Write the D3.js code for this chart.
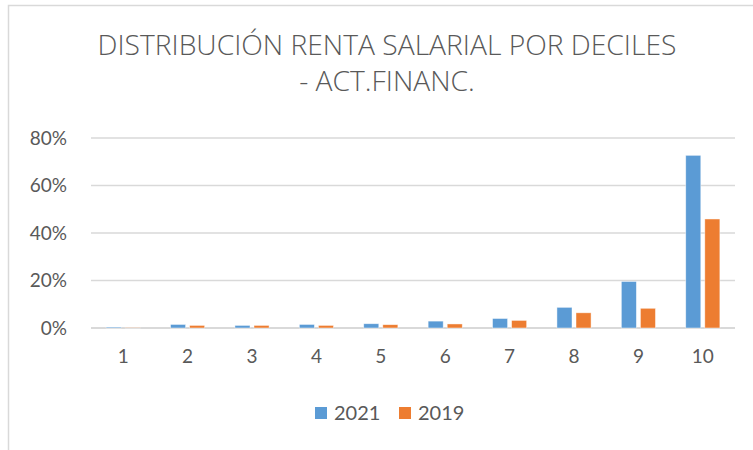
<!DOCTYPE html>
<html>
<head>
<meta charset="utf-8">
<script src="https://cdn.jsdelivr.net/npm/d3@7"></script>
<style>
  body { margin: 0; background: #fff; }
  svg { display: block; }
</style>
</head>
<body>
<script>
var width = 753, height = 450;

// data
var deciles = ["1", "2", "3", "4", "5", "6", "7", "8", "9", "10"];
var series = ["2021", "2019"];
var values2021 = [0.004, 0.015, 0.011, 0.015, 0.018, 0.029, 0.040, 0.087, 0.196, 0.727];
var values2019 = [0.001, 0.011, 0.011, 0.011, 0.014, 0.017, 0.032, 0.064, 0.083, 0.459];
var yTicks = [0, 0.2, 0.4, 0.6, 0.8];
var titleLines = ["DISTRIBUCIÓN RENTA SALARIAL POR DECILES", "- ACT.FINANC."];

var colors = {"2021": "#5b9bd5", "2019": "#ed7d31"};
var textColor = "#595959", gridColor = "#d9d9d9";
var font = "Lato, 'Open Sans', sans-serif";

var svg = d3.select("body").append("svg")
  .attr("width", width)
  .attr("height", height);

// chart frame (only top/left edges are visible)
svg.append("rect")
  .attr("x", 8.5).attr("y", 5.5)
  .attr("width", 800).attr("height", 500)
  .attr("fill", "none")
  .attr("stroke", gridColor)
  .attr("stroke-width", 1.5);

/*
* Title
*/
var title = svg.append("g");
title.selectAll("text")
  .data(titleLines)
  .enter().append("text")
  .attr("x", 387)
  .attr("y", function(d, i) { return 55 + i * 36; })
  .attr("text-anchor", "middle")
  .attr("font-family", "'Open Sans', sans-serif")
  .attr("font-weight", 300)
  .attr("font-size", 25)
  .attr("fill", textColor)
  .text(function(d) { return d; });

// scale title so the first line matches the reference width
var firstLine = title.select("text").node();
var w = firstLine.getComputedTextLength();
var fs = 25 * 579 / w;
title.selectAll("text").attr("font-size", fs);

/*
* Scales
*/
var x = d3.scaleBand()
  .domain(deciles)
  .range([91, 735])
  .paddingInner(0.47)
  .paddingOuter(0.235);

var xInner = d3.scaleBand()
  .domain(series)
  .range([0, x.bandwidth()])
  .paddingInner(0.21);

var y = d3.scaleLinear()
  .domain([0, 0.8])
  .range([328, 138]);

/*
* Grid + axes
*/
var grid = svg.append("g");
grid.selectAll("line")
  .data(yTicks)
  .enter().append("line")
  .attr("x1", 91).attr("x2", 735)
  .attr("y1", function(d) { return y(d); })
  .attr("y2", function(d) { return y(d); })
  .attr("stroke", gridColor)
  .attr("stroke-width", function(d) { return d === 0 ? 2 : 1.5; });

var yAxis = svg.append("g")
  .attr("transform", "translate(67,0)")
  .call(d3.axisLeft(y).tickValues(yTicks).tickFormat(d3.format(".0%")).tickSize(0).tickPadding(0));
yAxis.select(".domain").remove();
yAxis.selectAll("text")
  .attr("font-family", font)
  .attr("font-size", 19)
  .attr("fill", textColor);

var xAxis = svg.append("g")
  .attr("transform", "translate(0,328)")
  .call(d3.axisBottom(x).tickSize(0).tickPadding(22));
xAxis.select(".domain").remove();
xAxis.selectAll("text")
  .attr("font-family", font)
  .attr("font-size", 19)
  .attr("fill", textColor);

/*
* Bars
*/
var rows = deciles.map(function(d, i) {
  return {decile: d, "2021": values2021[i], "2019": values2019[i]};
});

var groups = svg.append("g").selectAll("g")
  .data(rows)
  .enter().append("g")
  .attr("transform", function(d) { return "translate(" + x(d.decile) + ",0)"; });

groups.selectAll("rect")
  .data(function(d) { return series.map(function(s) { return {key: s, value: d[s]}; }); })
  .enter().append("rect")
  .attr("x", function(d) { return xInner(d.key); })
  .attr("y", function(d) { return y(d.value); })
  .attr("width", xInner.bandwidth())
  .attr("height", function(d) { return y(0) - y(d.value); })
  .attr("fill", function(d) { return colors[d.key]; })
  .attr("stroke", "#fff")
  .attr("stroke-opacity", 0.6)
  .attr("stroke-width", 0.75);

/*
* Legend
*/
var legendX = [315, 399];
var legend = svg.append("g").selectAll("g")
  .data(series)
  .enter().append("g")
  .attr("transform", function(d, i) { return "translate(" + legendX[i] + ",407)"; });

legend.append("rect")
  .attr("width", 12).attr("height", 12)
  .attr("fill", function(d) { return colors[d]; });

legend.append("text")
  .attr("x", 19)
  .attr("y", 13)
  .attr("font-family", font)
  .attr("font-size", 20)
  .attr("fill", textColor)
  .text(function(d) { return d; });
</script>
</body>
</html>
